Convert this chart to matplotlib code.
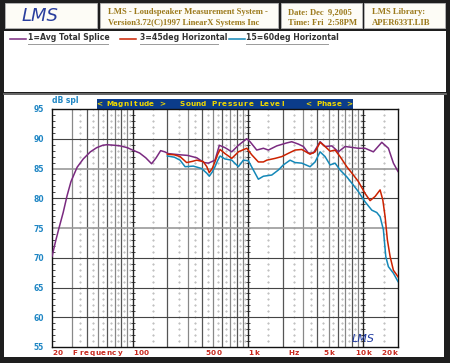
import numpy as np
import matplotlib
matplotlib.use("Agg")
import matplotlib.pyplot as plt
from matplotlib.patches import Rectangle

# ---- data ----
avg_freq = [20, 21.5, 23, 25, 27, 29.2, 33, 37.3, 43, 48.8, 55, 60, 70, 78, 90, 100,
            115, 130, 146, 160, 175, 190, 204, 258, 300, 360, 416, 454, 518, 565,
            633, 724, 826, 976, 1043, 1192, 1361, 1504, 1778, 2171, 2398, 2737,
            3024, 3343, 3692, 4222, 4665, 5332, 6083, 6955, 9072, 10368, 12236,
            14472, 16512, 18246, 20000]
avg_db = [70.2, 72.8, 75.0, 77.6, 80.4, 82.8, 85.2, 86.6, 87.8, 88.5, 88.9, 89.0,
          88.9, 88.8, 88.5, 88.1, 87.6, 86.8, 85.8, 86.8, 88.0, 87.8, 87.5, 87.3,
          87.2, 86.8, 86.0, 85.9, 86.4, 88.9, 88.5, 87.8, 88.9, 90.0, 89.5, 88.1,
          88.4, 88.1, 88.8, 89.3, 89.5, 89.1, 88.7, 87.6, 87.6, 89.5, 88.7, 88.8,
          87.8, 88.7, 88.4, 88.4, 87.8, 89.4, 88.4, 85.9, 84.5]

h45_freq = [200, 230, 258, 294, 330, 360, 410, 440, 462, 490, 518, 545, 573, 633,
            724, 826, 976, 1079, 1231, 1361, 1456, 1719, 1964, 2241, 2562, 2929,
            3457, 3819, 4222, 4665, 5154, 5694, 6294, 7194, 8210, 9072, 10368,
            11456, 12660, 13990, 14770, 15460, 16180, 17086, 18246, 19530, 20000]
h45_db = [87.4, 87.3, 87.0, 86.0, 86.2, 86.4, 86.15, 85.3, 84.3, 85.0, 86.15, 87.3,
          88.2, 87.5, 86.7, 87.8, 88.4, 87.3, 86.1, 86.1, 86.4, 86.7, 87.0, 87.55,
          88.1, 88.2, 87.4, 87.8, 89.4, 88.7, 87.9, 88.1, 87.0, 85.3, 83.9, 82.8,
          80.8, 79.6, 80.3, 81.4, 79.7, 76.9, 73.0, 70.2, 67.9, 67.1, 66.8]

h60_freq = [200, 230, 258, 285, 336, 397, 440, 462, 490, 518, 545, 573, 633, 724,
            826, 912, 1008, 1114, 1231, 1361, 1609, 1836, 2028, 2318, 2562, 2929,
            3457, 3819, 4222, 4665, 5154, 5694, 6294, 7194, 8210, 9072, 10368,
            11852, 13096, 13990, 14942, 15670, 16512, 18246, 20000]
h60_db = [87.1, 86.9, 86.4, 85.3, 85.4, 85.0, 84.2, 83.7, 84.4, 85.3, 86.3, 87.1,
          86.6, 86.4, 85.3, 86.4, 86.3, 84.75, 83.2, 83.7, 83.9, 84.75, 85.6, 86.4,
          86.0, 85.9, 85.3, 86.1, 87.8, 87.0, 85.6, 85.9, 84.75, 83.6, 82.2, 81.1,
          79.4, 78.0, 77.6, 76.9, 74.7, 70.2, 68.5, 67.4, 66.0]

y_ticks = [55, 60, 65, 70, 75, 80, 85, 90, 95]
x_labels = [(20, "20", "left"), (30, "Frequency", "left"),
            (100, "100", "left"), (500, "500", "center"),
            (1000, "1k", "left"), (2500, "Hz", "center"),
            (5000, "5k", "center"), (10000, "10k", "center"),
            (20000, "20k", "right")]

PURPLE = "#7a2a80"
RED = "#cc2200"
BLUE = "#1488b8"
W, H = 450, 363


def fx(x):
    return x / W


def fy(y):
    return 1 - y / H


def panel(fig, x0, y0, x1, y1, fc="white", ec="none", lw=0, z=-5):
    fig.patches.append(Rectangle((fx(x0), fy(y1)), fx(x1 - x0), (y1 - y0) / H,
                                 transform=fig.transFigure, fc=fc, ec=ec, lw=lw,
                                 zorder=z))


def hline(fig, x0, x1, y, **kw):
    fig.add_artist(plt.Line2D([fx(x0), fx(x1)], [fy(y), fy(y)],
                              transform=fig.transFigure, **kw))


def spaced(fig, x, y, s, pitch, ha="left", **kw):
    # LMS prints these strings with a fixed letter pitch
    width = pitch * len(s)
    if ha == "center":
        x = x - width / 2
    elif ha == "right":
        x = x - width
    for i, ch in enumerate(s):
        if ch != " ":
            fig.text(fx(x + pitch * (i + 0.5)), fy(y), ch, ha="center", va="center", **kw)


fig = plt.figure(figsize=(4.5, 3.63), dpi=100, facecolor="#1e1e1e")

# header boxes
for x0, x1 in [(5, 97), (100, 278), (281, 362), (364, 445)]:
    panel(fig, x0, 3, x1, 28, fc="#fdfcf6", ec="#b8b8b8", lw=0.6)
gold = "#9c7a1c"
hdr = dict(color=gold, fontsize=6.2, fontweight="bold", family="Liberation Serif", va="center")
fig.text(fx(108), fy(12), "LMS - Loudspeaker Measurement System -", **hdr)
fig.text(fx(108), fy(23), "Version3.72(C)1997 LinearX Systems Inc", **hdr)
fig.text(fx(288), fy(12), "Date: Dec  9,2005", **hdr)
fig.text(fx(288), fy(23), "Time: Fri  2:58PM", **hdr)
fig.text(fx(372), fy(12), "LMS Library:", **hdr)
fig.text(fx(372), fy(23), "APER633T.LIB", **hdr)
fig.text(fx(40), fy(16), "LMS", color="#2a3f9e", fontsize=13, style="italic",
         family="DejaVu Sans", va="center", ha="center")

# legend panel
panel(fig, 4, 31, 446, 92)
leg = [(10, 26, 28, 108, PURPLE, "1=Avg Total Splice"),
       (120, 136, 140, 218, RED, "3=45deg Horizontal"),
       (229, 245, 246, 328, BLUE, "15=60deg Horizontal")]
for lx0, lx1, tx, tx1, col, lab in leg:
    hline(fig, lx0, lx1, 38.5, color=col, lw=1.1)
    fig.text(fx(tx), fy(38), lab, color="#333333", fontsize=5.6,
             fontweight="bold", va="center")
    hline(fig, tx, tx1, 43.5, color="#9a9a9a", lw=0.7)
hline(fig, 4, 446, 93.5, color="#777777", lw=1.2)

# chart panel
panel(fig, 4, 95, 444, 357)

ax = fig.add_axes([fx(52), fy(347), fx(346), 238 / H])
ax.set_xscale("log")
ax.set_xlim(20, 20000)
ax.set_ylim(55, 95)

# grid: full lines at 1..9 per decade, dots at the midpoints
for dec in [10, 100, 1000, 10000]:
    for m in range(1, 10):
        f = dec * m
        if f <= 20 or f >= 20000:
            continue
        if m == 1:
            ax.axvline(f, color="#222222", lw=1.0, zorder=1)
            ax.plot([f] * 41, range(55, 96), ls="none", marker="_", ms=2.5,
                    color="#222222", mew=0.6, zorder=1)
        else:
            ax.axvline(f, color="#888888" if m % 2 else "#555555", lw=0.9, zorder=1)
        fm = dec * (m + 0.5)
        if 20 < fm < 20000:
            ax.plot([fm] * 40, np.arange(55.5, 95, 1.0) + 0.5, ls="none", marker=".",
                    ms=0.9, color="#aaaaaa", zorder=1)
for yv in range(60, 95, 5):
    ax.axhline(yv, color="#9a9a9a" if yv in (75, 85) else "#444444",
               lw=1.2 if yv in (75, 85) else 0.8, zorder=1)

ax.plot(avg_freq, avg_db, color=PURPLE, lw=1.1, zorder=3)
ax.plot(h45_freq, h45_db, color=RED, lw=1.1, zorder=4)
ax.plot(h60_freq, h60_db, color=BLUE, lw=1.1, zorder=3)

for s in ax.spines.values():
    s.set_color("#111111")
    s.set_linewidth(1.0)

ax.set_yticks(y_ticks)
ax.set_yticklabels([str(v) for v in y_ticks])
ax.set_yticks(range(55, 96), minor=True)
ax.tick_params(axis="y", which="major", length=0, pad=6, labelsize=5.5,
               labelcolor="#1f86c4")
ax.tick_params(axis="y", which="minor", length=2, direction="in", width=0.5)
for lab in ax.get_yticklabels():
    lab.set_fontweight("bold")
ax.set_xticks([])
ax.set_xticks([], minor=True)

# x labels: place by frequency through the axis transform, then letter-space them
for f, s, ha in x_labels:
    xd, _ = ax.transData.transform((f, 60))
    xpix = xd * W / fig.bbox.width
    spaced(fig, xpix, 353, s, 5.6, ha=ha, color="#c8281e", fontsize=5.2,
           fontweight="bold")

ax.text(0.0, 1.015, "dB spl", transform=ax.transAxes, color="#1f86c4", fontsize=5.5,
        fontweight="bold", va="bottom", ha="left")

# blue banner above the plot
panel(fig, 97, 99, 353, 108.5, fc="#0b3c8a")
ban = dict(color="#f0d800", fontsize=5.2, fontweight="bold")
spaced(fig, 97, 104, "< Magnitude >", 5.2, **ban)
spaced(fig, 180, 104, "Sound Pressure Level", 5.25, **ban)
spaced(fig, 306, 104, "< Phase >", 5.1, **ban)

ax.text(0.9, 0.035, "LMS", transform=ax.transAxes, color="#1f3aa0", fontsize=8,
        style="italic", ha="center", va="center")

fig.savefig("out.png", dpi=100, facecolor=fig.get_facecolor())
